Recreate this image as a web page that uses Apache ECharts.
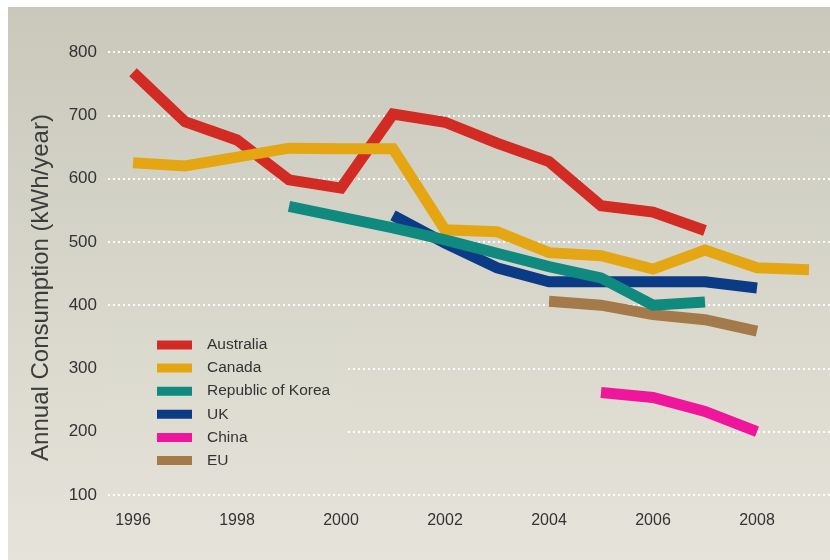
<!DOCTYPE html>
<html>
<head>
<meta charset="utf-8">
<script src="https://cdn.jsdelivr.net/npm/echarts@6/dist/echarts.min.js"></script>
<style>
html,body{margin:0;padding:0;background:#ffffff;}
#chart{width:830px;height:560px;}
</style>
</head>
<body>
<div id="chart"></div>
<script>
// ---- data ----
const years = [1996,1997,1998,1999,2000,2001,2002,2003,2004,2005,2006,2007,2008,2009];
const australia = [768,690,661,598,585,702,689,656,627,557,547,518,null,null];
const canada    = [625,620,634,648,647,647,519,516,483,478,457,487,459,456];
const korea     = [null,null,null,556,539,522,503,482,461,443,400,405,null,null];
const uk        = [null,null,null,null,null,542,498,459,437,437,437,437,427,null];
const china     = [null,null,null,null,null,null,null,null,null,262,254,232,200,null];
const eu        = [null,null,null,null,null,null,null,null,406,400,385,377,359,null];
const seriesNames = ['Australia','Canada','Republic of Korea','UK','China','EU'];
const xTickLabels = [1996,1998,2000,2002,2004,2006,2008];
const yTicks = [100,200,300,400,500,600,700,800];

// ---- styles ----
const colors = ['#d22b24','#e5a614','#10897f','#0c3b86','#f0169c','#a57a4b'];
const seriesValues = [australia, canada, korea, uk, china, eu];
const zs = [4,4,4,3,3,3];

const bgTop = [201,200,187], bgBot = [230,228,218];
function bgAt(y){
  const t = Math.max(0, Math.min(1, (y - 7) / (560 - 7)));
  const c = bgTop.map((v,i)=>Math.round(v + (bgBot[i]-v)*t));
  return 'rgb(' + c.join(',') + ')';
}

function toPairs(vals){
  const out = [];
  vals.forEach((v,i)=>{ if (v != null) out.push([years[i], v]); });
  return out;
}

const chart = echarts.init(document.getElementById('chart'), null, {renderer:'canvas'});
const option = {
  animation: false,
  backgroundColor: '#ffffff',
  graphic: {
    elements: [{
      type: 'rect', z: -100, silent: true,
      shape: {x: 8, y: 7, width: 822, height: 553},
      style: {fill: new echarts.graphic.LinearGradient(0,0,0,1,[
        {offset:0, color: bgAt(7)}, {offset:1, color: bgAt(560)}
      ])}
    }]
  },
  grid: {left: 108, right: 0, top: 52, bottom: 65, containLabel: false},
  xAxis: {
    type: 'value',
    min: 1996 - 25/52,
    max: 2008 + 73/52,
    axisLine: {show: false},
    axisTick: {show: false},
    splitLine: {show: false},
    axisLabel: {
      customValues: xTickLabels,
      formatter: v => String(Math.round(v)),
      margin: 18,
      fontFamily: 'Liberation Sans, Arial, sans-serif',
      fontSize: 16,
      color: '#333333'
    }
  },
  yAxis: {
    type: 'value',
    min: 100, max: 800, interval: 100,
    name: 'Annual Consumption (kWh/year)',
    nameLocation: 'middle',
    nameGap: 55,
    nameTextStyle: {
      fontFamily: 'Liberation Sans, Arial, sans-serif',
      fontSize: 24,
      color: '#3c3c3c',
      padding: [0, 28, 0, 0]
    },
    axisLine: {show: false},
    axisTick: {show: false},
    axisLabel: {
      margin: 11,
      fontFamily: 'Liberation Sans, Arial, sans-serif',
      fontSize: 17,
      color: '#333333'
    },
    splitLine: {
      show: true,
      lineStyle: {color: 'rgba(255,255,255,0.95)', width: 2, type: [2,3]}
    }
  },
  legend: {
    orient: 'vertical',
    left: 108, top: 318,
    padding: [19, 16, 14, 49],
    itemWidth: 35, itemHeight: 9, itemGap: 7.1,
    icon: 'rect',
    backgroundColor: new echarts.graphic.LinearGradient(0,0,0,1,[
      {offset:0, color: bgAt(318)}, {offset:1, color: bgAt(480)}
    ]),
    textStyle: {
      fontFamily: 'Liberation Sans, Arial, sans-serif',
      fontSize: 15.5, color: '#333333',
      padding: [0, 0, 0, 10]
    },
    selectedMode: false,
    data: seriesNames
  },
  series: seriesNames.map((name, i) => ({
    name: name,
    type: 'line',
    z: zs[i],
    data: toPairs(seriesValues[i]),
    showSymbol: false,
    symbol: 'none',
    smooth: false,
    color: colors[i],
    lineStyle: {color: colors[i], width: 11, cap: 'butt', join: 'miter'},
    emphasis: {disabled: true}
  }))
};
chart.setOption(option);
</script>
</body>
</html>
